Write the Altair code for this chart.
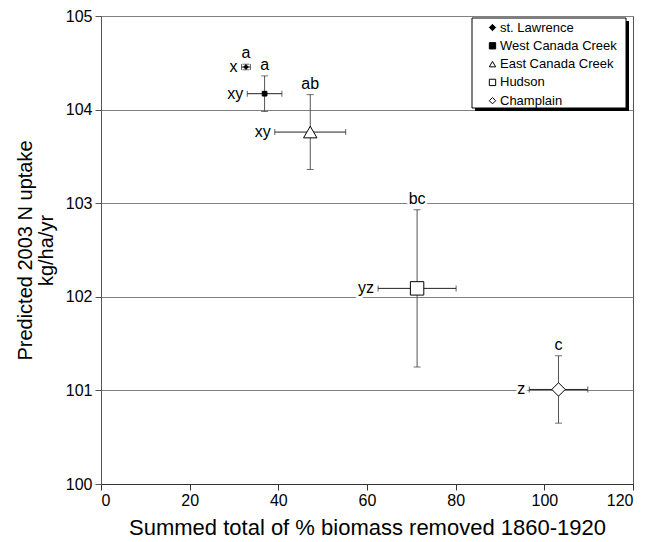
import altair as alt
import pandas as pd

sites = ["st. Lawrence", "West Canada Creek", "East Canada Creek", "Hudson", "Champlain"]
x_vals = [32.7, 36.9, 47.2, 71.3, 103.2]
x_err = [1.0, 3.9, 8.0, 8.8, 6.6]
y_vals = [104.455, 104.17, 103.76, 102.09, 101.01]
y_err = [0.03, 0.19, 0.40, 0.84, 0.36]
top_letters = ["a", "a", "ab", "bc", "c"]
left_letters = ["x", "xy", "xy", "yz", "z"]

shape_range = ["diamond", "square", "triangle-up", "square", "diamond"]
fill_range = ["black", "black", "white", "white", "white"]
stroke_range = ["black"] * 5
small_sites = sites[:2]
large_sites = sites[2:]

FONT = "Liberation Sans"

df = pd.DataFrame({
    "site": sites,
    "x": x_vals,
    "y": y_vals,
    "xlo": [a - b for a, b in zip(x_vals, x_err)],
    "xhi": [a + b for a, b in zip(x_vals, x_err)],
    "ylo": [a - b for a, b in zip(y_vals, y_err)],
    "yhi": [a + b for a, b in zip(y_vals, y_err)],
    "top": top_letters,
    "left": left_letters,
})

xscale = alt.Scale(domain=[0, 120], nice=False)
yscale = alt.Scale(domain=[100, 105], nice=False, zero=False)

base = alt.Chart(df)

xaxis = alt.Axis(values=[0, 20, 40, 60, 80, 100, 120], grid=False, format="d",
                 title="Summed total of % biomass removed 1860-1920",
                 labelFontSize=16, titleFontSize=22, tickSize=6, labelPadding=2,
                 titlePadding=9, domainColor="#333", tickColor="#333",
                 labelColor="black", titleColor="black", titleFontWeight="normal")
yaxis = alt.Axis(values=[100, 101, 102, 103, 104, 105], grid=True, gridColor="#808080",
                 format="d",
                 title=["Predicted 2003 N uptake", "kg/ha/yr"],
                 labelFontSize=16, titleFontSize=20, tickSize=6, labelPadding=3,
                 titlePadding=9, titleLineHeight=21, domainColor="#555", tickColor="#555",
                 labelColor="black", titleColor="black", titleFontWeight="normal")

legend = alt.Legend(title=None, orient="none", legendX=385, legendY=5, zindex=2,
                    padding=0, strokeColor="transparent", fillColor="transparent",
                    symbolSize=40, symbolStrokeColor="black", symbolStrokeWidth=1,
                    labelFontSize=13, labelFont=FONT, labelColor="black",
                    rowPadding=4.3, labelOffset=1)

halo_top = base.mark_text(baseline="bottom", dy=-3, fontSize=16, font=FONT,
                          stroke="white", strokeWidth=5, color="white").encode(
    x=alt.X("x:Q", scale=xscale, axis=xaxis),
    y=alt.Y("yhi:Q", scale=yscale, axis=yaxis),
    text="top:N")
halo_left = base.mark_text(align="right", baseline="middle", dx=-4, fontSize=16, font=FONT,
                           stroke="white", strokeWidth=5, color="white").encode(
    x="xlo:Q", y="y:Q", text="left:N")

xbar = base.mark_rule(color="#222", strokeWidth=1).encode(x="xlo:Q", x2="xhi:Q", y="y:Q")
ybar = base.mark_rule(color="#555", strokeWidth=1).encode(x="x:Q", y="ylo:Q", y2="yhi:Q")
xcap_lo = base.mark_tick(orient="vertical", size=6, thickness=1, color="#222").encode(x="xlo:Q", y="y:Q")
xcap_hi = base.mark_tick(orient="vertical", size=6, thickness=1, color="#222").encode(x="xhi:Q", y="y:Q")
ycap_lo = base.mark_tick(orient="horizontal", size=7, thickness=1, color="#333").encode(x="x:Q", y="ylo:Q")
ycap_hi = base.mark_tick(orient="horizontal", size=7, thickness=1, color="#333").encode(x="x:Q", y="yhi:Q")

shape_enc = alt.Shape("site:N", scale=alt.Scale(domain=sites, range=shape_range), legend=legend)
fill_enc = alt.Fill("site:N", scale=alt.Scale(domain=sites, range=fill_range), legend=legend)
stroke_enc = alt.Stroke("site:N", scale=alt.Scale(domain=sites, range=stroke_range), legend=legend)

points_small = base.mark_point(filled=True, strokeWidth=1, opacity=1, size=22).encode(
    x="x:Q", y="y:Q", shape=shape_enc, fill=fill_enc, stroke=stroke_enc,
).transform_filter(alt.FieldOneOfPredicate(field="site", oneOf=small_sites))
points_large = base.mark_point(filled=True, strokeWidth=1, opacity=1, size=180).encode(
    x="x:Q", y="y:Q", shape=shape_enc, fill=fill_enc, stroke=stroke_enc,
).transform_filter(alt.FieldOneOfPredicate(field="site", oneOf=large_sites))

txt_top = base.mark_text(baseline="bottom", dy=-3, fontSize=16, font=FONT, color="black").encode(
    x="x:Q", y="yhi:Q", text="top:N")
txt_left = base.mark_text(align="right", baseline="middle", dx=-4, fontSize=16, font=FONT,
                          color="black").encode(x="xlo:Q", y="y:Q", text="left:N")

# legend frame and its drop shadow (decoration only)
deco = alt.Chart(pd.DataFrame({"k": [0]}))
shadow = deco.mark_rect(color="black").encode(
    x=alt.value(374), x2=alt.value(528), y=alt.value(5), y2=alt.value(95))
frame = deco.mark_rect(fill="white", stroke="black", strokeWidth=1).encode(
    x=alt.value(371), x2=alt.value(525), y=alt.value(2), y2=alt.value(92))

chart = alt.layer(
    halo_top, halo_left, xbar, ybar, xcap_lo, xcap_hi, ycap_lo, ycap_hi,
    points_small, points_large, txt_top, txt_left, shadow, frame
).properties(
    width=532, height=468,
    autosize=alt.AutoSizeParams(type="none"),
    padding={"left": 93, "top": 8, "right": 6, "bottom": 56},
).configure(
    font=FONT,
).configure_view(
    stroke="#555", strokeWidth=1
)

chart.save("out.html", embed_options={"renderer": "svg", "actions": False})
